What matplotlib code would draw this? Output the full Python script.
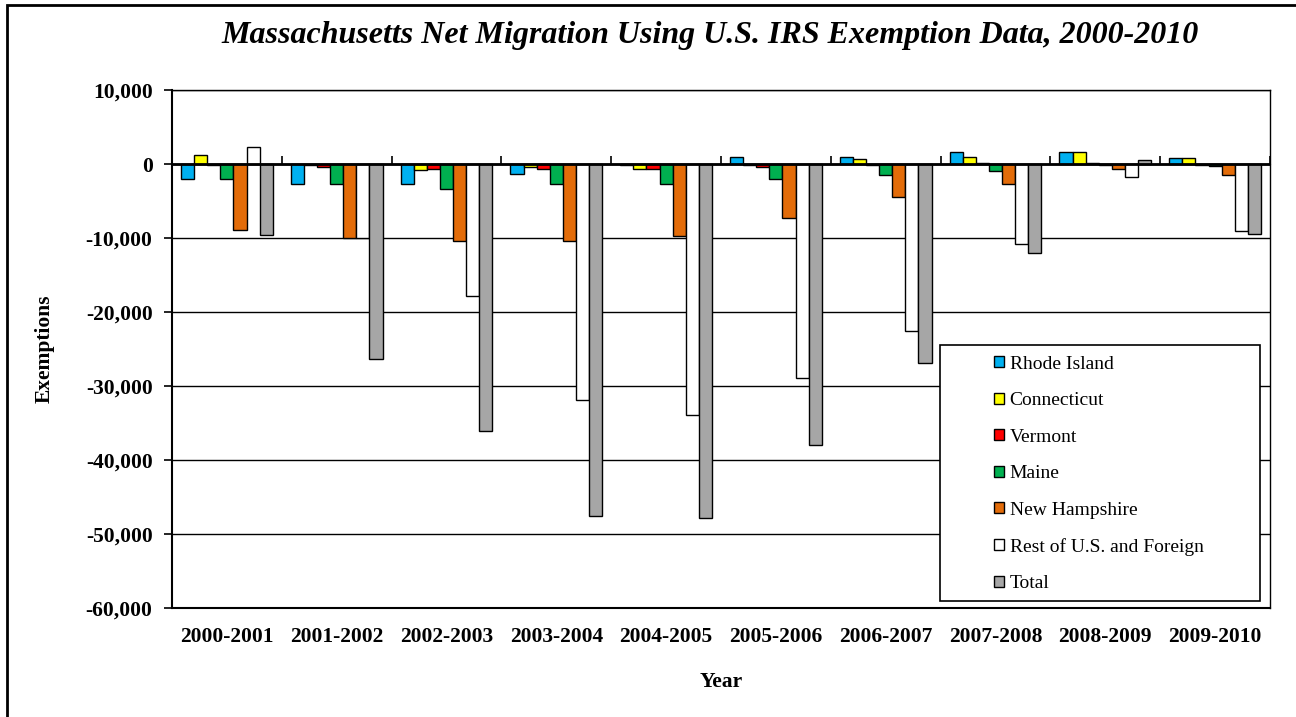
import matplotlib
matplotlib.use("Agg")
import matplotlib.pyplot as plt
import numpy as np
from matplotlib.patches import Rectangle, Patch
from matplotlib.ticker import FuncFormatter

categories = ['2000-2001', '2001-2002', '2002-2003', '2003-2004', '2004-2005',
              '2005-2006', '2006-2007', '2007-2008', '2008-2009', '2009-2010']
rhode_island = [-2000, -2750, -2750, -1300, -150, 1000, 1000, 1580, 1580, 770]
connecticut = [1200, -100, -850, -400, -680, -100, 720, 950, 1580, 770]
vermont = [-100, -450, -680, -680, -680, -450, -150, 130, 130, -150]
maine = [-2000, -2750, -3400, -2750, -2750, -2000, -1530, -900, -150, -250]
new_hampshire = [-8900, -10000, -10350, -10350, -9770, -7330, -4460, -2750, -680, -1500]
rest_us_foreign = [2250, -10000, -17900, -31900, -33900, -28900, -22500, -10800, -1760, -9000]
total = [-9580, -26400, -36050, -47600, -47800, -38000, -26950, -12050, 500, -9400]

series_names = ['Rhode Island', 'Connecticut', 'Vermont', 'Maine', 'New Hampshire',
                'Rest of U.S. and Foreign', 'Total']
series_values = [rhode_island, connecticut, vermont, maine, new_hampshire,
                 rest_us_foreign, total]
colors = ['#00B0F0', '#FFFF00', '#FF0000', '#00B050', '#E36C09', '#FFFFFF', '#A6A6A6']

y_ticks = list(range(-60000, 10001, 10000))

plt.rcParams['font.family'] = ['Liberation Serif', 'DejaVu Serif']

fig = plt.figure(figsize=(12.96, 7.17), dpi=100)
W, H = 1296, 717
left, right, top, bottom = 172, 1270, 90, 608
ax = fig.add_axes([left / W, 1 - bottom / H, (right - left) / W, (bottom - top) / H])

n = len(series_names)
x = np.arange(len(categories))
bw = 0.836 / n
for i, (name, vals, c) in enumerate(zip(series_names, series_values, colors)):
    offs = (i - (n - 1) / 2) * bw
    ax.bar(x + offs, vals, width=bw, color=c, edgecolor='black', linewidth=1.0,
           label=name, zorder=3)

ax.set_xlim(-0.5, len(categories) - 0.5)
ax.set_ylim(-60000, 10000)
ax.set_yticks(y_ticks)
ax.yaxis.set_major_formatter(FuncFormatter(lambda v, p: f"{int(v):,}"))
ax.grid(axis='y', color='black', linewidth=1.0, zorder=0)
ax.set_axisbelow(True)
ax.axhline(0, color='black', linewidth=2.0, zorder=4)

ax.set_xticks(x)
ax.set_xticklabels(categories)
ax.tick_params(axis='x', length=0, pad=14)
ax.tick_params(axis='y', direction='out', length=6, width=1.2, pad=8)
for lab in ax.get_xticklabels() + ax.get_yticklabels():
    lab.set_fontweight('bold')
    lab.set_fontsize(15.5)

for s in ax.spines.values():
    s.set_color('black')
    s.set_linewidth(1.0)
ax.spines['left'].set_linewidth(1.5)
ax.spines['bottom'].set_linewidth(1.5)

# category boundary ticks on the zero axis line
sec = ax.secondary_xaxis(60000 / 70000)
sec.set_xticks(np.arange(len(categories) + 1) - 0.5)
sec.set_xticklabels([''] * (len(categories) + 1))
sec.tick_params(axis='x', direction='out', length=6, width=1.2)
sec.spines['bottom'].set_visible(False)

ax.set_ylabel('Exemptions', fontsize=15.5, fontweight='bold', labelpad=22)
ax.set_xlabel('Year', fontsize=15.5, fontweight='bold', labelpad=18)

fig.text(710 / W, 1 - 35 / H,
         'Massachusetts Net Migration Using U.S. IRS Exemption Data, 2000-2010',
         ha='center', va='center', fontsize=23, fontweight='bold', style='italic')

# legend box
box = Rectangle((940 / W, 1 - 601 / H), 320 / W, 256 / H, transform=fig.transFigure,
                facecolor='white', edgecolor='black', linewidth=1.2, zorder=6)
fig.patches.append(box)
handles = [Patch(facecolor=c, edgecolor='black', linewidth=1.0) for c in colors]
leg = fig.legend(handles, series_names, loc='center left',
                 bbox_to_anchor=(994 / W, 1 - 474 / H), frameon=False,
                 fontsize=14, handlelength=0.5, handleheight=0.5, handletextpad=0.3,
                 labelspacing=1.0, borderpad=0, borderaxespad=0)
leg.set_zorder(7)

# outer chart frame
frame = Rectangle((7 / W, -0.02), 1.05, 1 - 5 / H + 0.02, transform=fig.transFigure,
                  fill=False, edgecolor='black', linewidth=2.0, zorder=10)
fig.patches.append(frame)

fig.savefig('out.png', dpi=100)
